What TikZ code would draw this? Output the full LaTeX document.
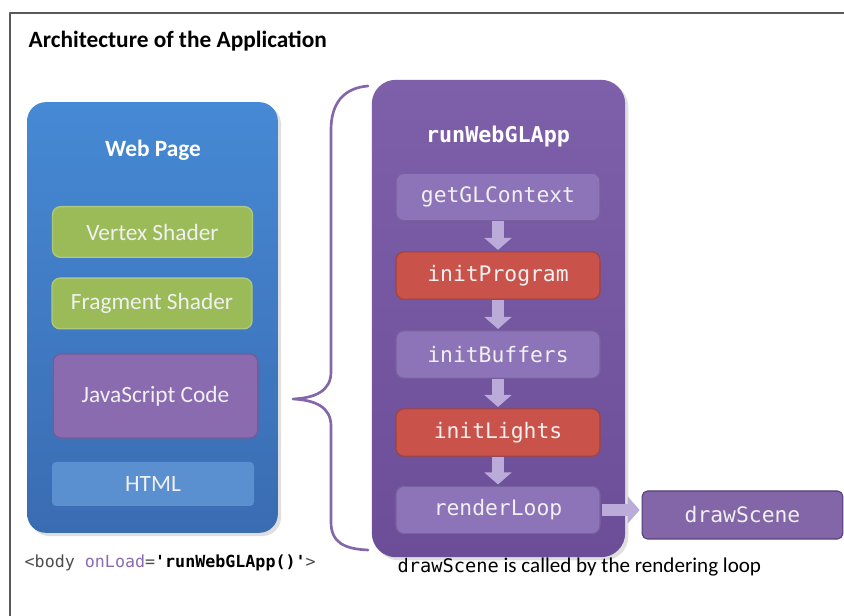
\documentclass[tikz,border=0pt]{standalone}
\usepackage{fontspec}
\setmainfont{Carlito}
\newfontfamily\codefont{DejaVu Sans Mono}
\usetikzlibrary{arrows.meta,shadows}
\definecolor{webtop}{HTML}{4689D4}
\definecolor{webbot}{HTML}{3A6CB2}
\definecolor{shgreen}{HTML}{9BBB59}
\definecolor{jspurple}{HTML}{8A6BB0}
\definecolor{htmlblue}{HTML}{5A8FD0}
\definecolor{apptop}{HTML}{7E60AA}
\definecolor{appbot}{HTML}{6B4E97}
\definecolor{steppurple}{HTML}{8D73B8}
\definecolor{stepred}{HTML}{C9534A}
\definecolor{flowlav}{HTML}{BBABD8}
\definecolor{bracecol}{HTML}{8467A8}
\begin{document}
\begin{tikzpicture}[x=0.75pt, y=-0.75pt, line join=round, line cap=round,
	inbox/.style={rounded corners=6pt, text=white!94!black, inner sep=0pt, font=\fontsize{17.5}{20}\selectfont},
	shaderbox/.style={inbox, fill=shgreen, draw=shgreen!80!white, line width=1pt, minimum width=150pt, minimum height=38pt},
	stepbox/.style={inbox, fill=steppurple, draw=steppurple!85!black, line width=0.8pt, minimum width=153pt, minimum height=35.5pt, font=\codefont\fontsize{16}{19}\selectfont},
	redbox/.style={stepbox, fill=stepred, draw=stepred!80!black},
	flow/.style={draw=flowlav, line width=9pt, line cap=butt, -{Triangle[width=20pt, length=9pt]}}]
	\useasboundingbox (0,0) rectangle (844,616);
	% frame and title
	\draw[gray!70!black, line width=0.8pt] (10,616) -- (10,13) -- (844,13);
	\node[anchor=west, font=\bfseries\fontsize{17.5}{20}\selectfont] (title) at (24,41) {Architecture of the Application};
	% web page
	\node[rounded corners=14pt, top color=webtop, bottom color=webbot, minimum width=188pt, minimum height=323pt, drop shadow={opacity=0.25}] (web) at (152.5,317.5) {};
	\node[text=white, font=\bfseries\fontsize{17.5}{20}\selectfont] (webtitle) at (153,150) {Web Page};
	\node[shaderbox] (vs) at (152.5,232) {Vertex Shader};
	\node[shaderbox] (fs) at (152,303.5) {Fragment Shader};
	\node[inbox, fill=jspurple, draw=jspurple!85!black, line width=1pt, minimum width=153.5pt, minimum height=63pt] (js) at (155.5,396) {JavaScript Code};
	\node[inbox, fill=htmlblue, rounded corners=3pt, minimum width=151.5pt, minimum height=33pt] (html) at (153,484) {HTML};
	\node[anchor=west, font=\codefont\fontsize{12.5}{15}\selectfont] (body) at (20,563)
		{\textcolor{gray!60!black}{<body} \textcolor{jspurple}{onLoad}\textcolor{gray!60!black}{=}\textbf{'runWebGLApp()'}\textcolor{gray!60!black}{>}};
	% brace
	\draw[bracecol, line width=2pt] (368,86) .. controls (343,88) and (331,104) .. (331,130) -- (331,372)
		.. controls (331,391) and (315,398) .. (293,399) .. controls (315,400) and (331,407) .. (331,426)
		-- (331,522) .. controls (331,543) and (345,549) .. (368,550);
	% application
	\node[rounded corners=18pt, top color=apptop, bottom color=appbot, minimum width=190pt, minimum height=358pt, drop shadow={opacity=0.25}] (app) at (498.5,318.5) {};
	\node[text=white, font=\codefont\bfseries\fontsize{16.3}{19}\selectfont] (apptitle) at (498,137) {runWebGLApp};
	\node[stepbox] (ctx) at (498,197) {getGLContext};
	\node[redbox] (prog) at (498,275.5) {initProgram};
	\node[stepbox] (buf) at (498,354.5) {initBuffers};
	\node[redbox] (lights) at (498,432.5) {initLights};
	\node[stepbox] (loop) at (498,510) {renderLoop};
	\node[stepbox, fill=jspurple!95!black, draw=appbot!80!black, minimum width=150.5pt, minimum height=36pt, rounded corners=4pt] (scene) at (742.5,515) {drawScene};
	\draw[flow] (ctx.south) -- ([yshift=1pt]prog.north);
	\draw[flow] (prog.south) -- ([yshift=1pt]buf.north);
	\draw[flow] (buf.south) -- ([yshift=1pt]lights.north);
	\draw[flow] (lights.south) -- ([yshift=1pt]loop.north);
	\draw[flow] ([xshift=1pt]loop.east) -- ([xshift=-1.5pt]scene.west |- loop.east);
	\node[anchor=west, font=\fontsize{15.8}{18}\selectfont] (note) at (393,567) {{\codefont\fontsize{14}{16}\selectfont drawScene} is called by the rendering loop};
\end{tikzpicture}
\end{document}
